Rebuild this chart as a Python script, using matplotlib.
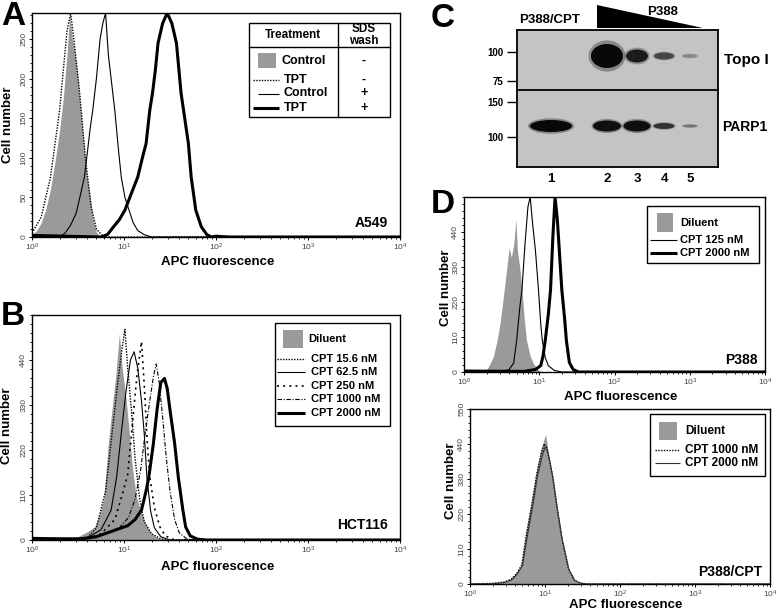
import numpy as np
import matplotlib
matplotlib.use('Agg')
import matplotlib.pyplot as plt
from matplotlib.patches import Rectangle, Ellipse, Polygon
from matplotlib.ticker import LogLocator, MultipleLocator, FixedLocator, NullFormatter

plt.rcParams['font.family'] = ['Liberation Sans', 'DejaVu Sans']
plt.rcParams['mathtext.default'] = 'regular'

# ---- data (log10 APC fluorescence, cell number) ----
# panel A, A549
a_ctrl_lx = [0.0, 0.05, 0.1, 0.15, 0.2, 0.25, 0.3, 0.34, 0.38, 0.41, 0.44, 0.47, 0.5, 0.53, 0.57, 0.6, 0.63, 0.66, 0.7, 0.75, 4.0]
a_ctrl_y = [3, 8, 18, 35, 60, 95, 135, 175, 230, 280, 250, 230, 200, 160, 110, 75, 55, 25, 6, 0, 0]
a_tpt_lx = [0.0, 0.1, 0.2, 0.3, 0.38, 0.42, 0.46, 0.52, 0.58, 0.64, 0.7, 0.78, 4.0]
a_tpt_y = [5, 25, 75, 160, 260, 283, 245, 180, 100, 40, 10, 0, 0]
a_ctrl_w_lx = [0.0, 0.3, 0.36, 0.42, 0.48, 0.53, 0.57, 0.6, 0.63, 0.66, 0.7, 0.74, 0.77, 0.8, 0.83, 0.86, 0.9,
               0.94, 0.97, 1.01, 1.06, 1.1, 1.15, 1.22, 1.3, 4.0]
a_ctrl_w_y = [0, 0, 5, 15, 30, 55, 76, 105, 135, 160, 200, 250, 270, 283, 230, 200, 160, 110, 76, 50, 32, 18, 8, 3, 0, 0]
a_tpt_w_lx = [0.0, 0.75, 0.82, 0.88, 0.95, 1.01, 1.08, 1.15, 1.2, 1.24, 1.28, 1.31, 1.34, 1.37, 1.42, 1.47, 1.52,
              1.57, 1.62, 1.66, 1.7, 1.73, 1.78, 1.84, 1.9, 1.95, 2.0, 2.15, 4.0]
a_tpt_w_y = [2, 0, 3, 12, 22, 34, 55, 76, 100, 118, 160, 182, 210, 245, 270, 283, 270, 245, 182, 150, 118, 76,
             34, 13, 3, 0, 1, 0, 0]

# panel B, HCT116
b_dil_lx = [0.0, 0.3, 0.5, 0.6, 0.68, 0.73, 0.78, 0.83, 0.87, 0.91, 0.95, 0.98, 1.02, 1.05, 1.09, 1.13, 1.18,
            1.23, 1.3, 1.38, 1.5, 4.0]
b_dil_y = [3, 2, 8, 20, 32, 60, 100, 237, 320, 400, 505, 420, 350, 280, 180, 110, 73, 40, 15, 4, 0, 0]
b_c15_lx = [0.0, 0.6, 0.7, 0.8, 0.87, 0.93, 0.98, 1.01, 1.04, 1.08, 1.12, 1.17, 1.22, 1.3, 1.4, 1.5, 4.0]
b_c15_y = [3, 5, 30, 120, 260, 380, 470, 515, 420, 320, 200, 100, 45, 15, 3, 0, 0]
b_c62_lx = [0.0, 0.6, 0.75, 0.86, 0.92, 0.97, 1.02, 1.07, 1.11, 1.15, 1.19, 1.22, 1.25, 1.29, 1.33, 1.4, 1.5, 4.0]
b_c62_y = [3, 5, 25, 73, 154, 260, 360, 440, 460, 420, 340, 260, 150, 70, 30, 8, 0, 0]
b_c250_lx = [0.0, 0.6, 0.75, 0.9, 0.98, 1.04, 1.09, 1.14, 1.19, 1.22, 1.25, 1.28, 1.33, 1.39, 1.45, 1.55, 4.0]
b_c250_y = [2, 3, 15, 50, 110, 160, 280, 400, 485, 380, 250, 154, 80, 32, 10, 0, 0]
b_c1000_lx = [0.0, 0.6, 0.8, 0.95, 1.05, 1.12, 1.18, 1.23, 1.28, 1.32, 1.35, 1.38, 1.42, 1.46, 1.5, 1.55, 1.6,
              1.68, 1.75, 4.0]
b_c1000_y = [2, 3, 15, 30, 55, 100, 170, 260, 340, 400, 430, 390, 300, 200, 120, 50, 18, 3, 0, 0]
b_c2000_lx = [0.0, 0.5, 0.7, 0.85, 0.95, 1.04, 1.12, 1.19, 1.24, 1.27, 1.32, 1.36, 1.4, 1.44, 1.47, 1.5, 1.55,
              1.59, 1.64, 1.67, 1.72, 1.8, 1.9, 4.0]
b_c2000_y = [4, 2, 8, 20, 28, 35, 50, 73, 120, 154, 237, 320, 385, 395, 370, 318, 237, 154, 73, 32, 10, 2, 0, 0]

# panel D top, P388
d1_dil_lx = [0.0, 0.2, 0.3, 0.39, 0.44, 0.48, 0.53, 0.57, 0.6, 0.63, 0.66, 0.69, 0.71, 0.74, 0.77, 0.8, 0.83,
             0.88, 0.92, 0.97, 1.03, 4.0]
d1_dil_y = [0, 0, 5, 48, 100, 154, 250, 330, 390, 360, 400, 480, 380, 330, 258, 170, 100, 50, 28, 10, 0, 0]
d1_c125_lx = [0.0, 0.5, 0.6, 0.66, 0.7, 0.74, 0.77, 0.81, 0.85, 0.88, 0.91, 0.95, 0.99, 1.02, 1.04, 1.08, 1.12,
              1.2, 1.3, 4.0]
d1_c125_y = [2, 0, 8, 28, 100, 200, 258, 400, 520, 550, 470, 380, 258, 150, 100, 45, 20, 5, 0, 0]
d1_c2000_lx = [0.0, 0.8, 0.95, 1.02, 1.05, 1.08, 1.12, 1.15, 1.18, 1.21, 1.24, 1.27, 1.3, 1.34, 1.36, 1.4,
               1.45, 1.52, 4.0]
d1_c2000_y = [3, 2, 8, 20, 50, 100, 180, 258, 420, 550, 480, 370, 258, 160, 100, 30, 8, 0, 0]

# panel D bottom, P388/CPT
d2_dil_lx = [0.0, 0.3, 0.45, 0.52, 0.6, 0.68, 0.74, 0.82, 0.88, 0.94, 0.98, 1.01, 1.04, 1.09, 1.14, 1.21, 1.3,
             1.38, 1.45, 1.55, 4.0]
d2_dil_y = [0, 1, 5, 13, 30, 55, 160, 265, 350, 420, 450, 470, 420, 350, 265, 160, 55, 13, 4, 0, 0]
d2_c1000_lx = [0.0, 0.3, 0.45, 0.55, 0.62, 0.69, 0.75, 0.83, 0.89, 0.95, 0.99, 1.02, 1.05, 1.1, 1.15, 1.22,
               1.31, 1.39, 1.47, 1.56, 4.0]
d2_c1000_y = [0, 2, 6, 15, 32, 60, 150, 255, 345, 410, 440, 430, 400, 340, 255, 150, 50, 12, 3, 0, 0]
d2_c2000_lx = [0.0, 0.3, 0.45, 0.55, 0.62, 0.7, 0.76, 0.84, 0.9, 0.96, 1.0, 1.03, 1.06, 1.11, 1.16, 1.23, 1.32,
               1.4, 1.48, 1.56, 4.0]
d2_c2000_y = [0, 1, 4, 12, 28, 58, 145, 250, 340, 400, 430, 420, 390, 330, 245, 140, 45, 10, 2, 0, 0]

# panel C, western blot
lanes = ['1', '2', '3', '4', '5']
topo_signal = [0.0, 1.0, 0.85, 0.6, 0.25]
parp_signal = [1.0, 0.95, 0.95, 0.7, 0.35]
marker_top = ['100', '75']
marker_bot = ['150', '100']

# ---- layout (pixels of a 777 x 611 canvas) ----
W, H = 777, 611
fig = plt.figure(figsize=(W / 100, H / 100), dpi=100)


def frac(l, t, r, b):
    return [l / W, 1 - b / H, (r - l) / W, (b - t) / H]


GRAY = '#9a9a9a'


def hist_axes(rect, ymax, ystep, minor, ytop):
    ax = fig.add_axes(rect)
    ax.set_xscale('log')
    ax.set_xlim(1, 1e4)
    ax.set_ylim(0, ymax)
    ax.set_xticks([1, 10, 100, 1000, 10000])
    ax.set_xticklabels([r'$10^{%d}$' % i for i in range(5)])
    ax.xaxis.set_minor_locator(LogLocator(base=10, subs=np.arange(2, 10)))
    ax.xaxis.set_minor_formatter(NullFormatter())
    yt = np.arange(0, ytop + 1, ystep)
    ax.yaxis.set_major_locator(FixedLocator(yt))
    ax.set_yticklabels([str(v) for v in yt], rotation=90, va='center')
    ax.yaxis.set_minor_locator(MultipleLocator(minor))
    ax.tick_params(which='major', direction='out', length=2.4, width=0.7, labelsize=6,
                   labelcolor='#444444', pad=1)
    ax.tick_params(which='minor', direction='out', length=1.5, width=0.6)
    for s in ax.spines.values():
        s.set_linewidth(1.0)
    return ax


def fill(ax, lx, y):
    ax.fill_between(10 ** np.array(lx), y, color=GRAY, lw=0)


def line(ax, lx, y, **kw):
    ax.plot(10 ** np.array(lx), y, color='black', **kw)


THIN = dict(lw=0.8)
THICK = dict(lw=2.2)
DOT = dict(lw=1.0, ls=(0, (1, 1)))
SPDOT = dict(lw=1.2, ls=(0, (1.2, 2.5)))
DASHDOT = dict(lw=0.8, ls=(0, (4, 1.5, 1, 1.5)))

# A
axA = hist_axes(frac(32, 13, 400, 237), 283, 50, 10, 250)
fill(axA, a_ctrl_lx, a_ctrl_y)
line(axA, a_tpt_lx, a_tpt_y, **DOT)
line(axA, a_ctrl_w_lx, a_ctrl_w_y, **THIN)
line(axA, a_tpt_w_lx, a_tpt_w_y, **THICK)

# B
axB = hist_axes(frac(32, 315, 400, 540), 550, 110, 22, 440)
fill(axB, b_dil_lx, b_dil_y)
line(axB, b_c15_lx, b_c15_y, **DOT)
line(axB, b_c62_lx, b_c62_y, **THIN)
line(axB, b_c250_lx, b_c250_y, **SPDOT)
line(axB, b_c1000_lx, b_c1000_y, **DASHDOT)
line(axB, b_c2000_lx, b_c2000_y, **THICK)

# D top
axD1 = hist_axes(frac(464, 197, 765, 372), 550, 110, 22, 440)
fill(axD1, d1_dil_lx, d1_dil_y)
line(axD1, d1_c125_lx, d1_c125_y, **THIN)
line(axD1, d1_c2000_lx, d1_c2000_y, **THICK)

# D bottom
axD2 = hist_axes(frac(470, 409, 770, 584), 550, 110, 22, 550)
fill(axD2, d2_dil_lx, d2_dil_y)
line(axD2, d2_c1000_lx, d2_c1000_y, **DOT)
axD2.plot(10 ** np.array(d2_c2000_lx), d2_c2000_y, color='#333333', lw=0.8)

# C blot
axC = fig.add_axes(frac(517, 30, 718, 167))
axC.set_xlim(517, 718)
axC.set_ylim(167, 30)
axC.set_facecolor('#c4c4c4')
axC.axhline(90, color='black', lw=1.3)
for s in axC.spines.values():
    s.set_linewidth(1.3)
lane_x = [551, 607, 637, 664, 690]
topo_w = [0, 32, 22, 20, 15]
topo_h = [0, 24, 13, 7, 4]
parp_w = [42, 28, 27, 21, 15]
parp_h = [12, 11, 11, 6, 3]
for x, s, w, h in zip(lane_x, topo_signal, topo_w, topo_h):
    if s > 0:
        axC.add_patch(Ellipse((x, 56), w * 1.15, h * 1.3, color='black', alpha=0.3 * s, lw=0))
        axC.add_patch(Ellipse((x, 56), w, h, color='#080808', alpha=s, lw=0))
for x, s, w, h in zip(lane_x, parp_signal, parp_w, parp_h):
    axC.add_patch(Ellipse((x, 126), w * 1.1, h * 1.3, color='black', alpha=0.3 * s, lw=0))
    axC.add_patch(Ellipse((x, 126), w, h, color='#080808', alpha=s, lw=0))
axC.set_yticks([52, 81, 102, 137])
axC.set_yticklabels(marker_top + marker_bot, fontsize=7, fontweight='bold')
axC.set_xticks(lane_x)
axC.set_xticklabels(lanes, fontsize=9.5, fontweight='bold')
axC.tick_params(axis='y', direction='out', length=7, width=1.0, pad=3)
axC.tick_params(axis='x', length=0, pad=4)

# ---- overlay for labels, legends, annotations ----
ov = fig.add_axes([0, 0, 1, 1])
ov.set_xlim(0, W)
ov.set_ylim(H, 0)
ov.axis('off')

BOLD = dict(fontweight='bold', color='black')

for txt, x, y in [('A', 1, 25), ('B', 1, 325), ('C', 431, 27), ('D', 431, 213)]:
    ov.text(x, y, txt, fontsize=24, va='baseline', ha='left', **BOLD)

for x, y in [(218, 262), (218, 567), (621, 397), (626, 605)]:
    ov.text(x, y, 'APC fluorescence', fontsize=9.5, ha='center', va='center', **BOLD)
for x, y in [(8, 125), (7, 426), (446, 288), (451, 481)]:
    ov.text(x, y, 'Cell number', fontsize=9.5, ha='center', va='center', rotation=90, **BOLD)

for txt, x, y in [('A549', 388, 223), ('HCT116', 388, 525), ('P388', 758, 360), ('P388/CPT', 762, 572)]:
    ov.text(x, y, txt, fontsize=10, ha='right', va='center', **BOLD)

# blot annotations
ov.add_patch(Polygon([(597, 5), (597, 28), (703, 28)], closed=True, color='black', lw=0))
ov.text(550, 20, 'P388/CPT', fontsize=9.5, ha='center', va='center', **BOLD)
ov.text(663, 12, 'P388', fontsize=9.5, ha='center', va='center', **BOLD)
ov.text(724, 60, 'Topo I', fontsize=11, ha='left', va='center', **BOLD)
ov.text(722, 127, 'PARP1', fontsize=10, ha='left', va='center', **BOLD)


def box(l, t, r, b):
    ov.add_patch(Rectangle((l, t), r - l, b - t, facecolor='white', edgecolor='black', lw=1.0, zorder=3))


def swatch(l, t, w, h):
    ov.add_patch(Rectangle((l, t), w, h, facecolor=GRAY, lw=0, zorder=4))


def sample(x0, x1, y, style):
    ov.plot([x0, x1], [y, y], color=style.get('color', 'black'), lw=style['lw'],
            ls=style.get('ls', '-'), zorder=4, solid_capstyle='butt')


# legend A (table)
box(249, 23, 390, 117)
ov.plot([249, 390], [47, 47], color='black', lw=1.0, zorder=4)
ov.plot([338, 338], [23, 117], color='black', lw=1.0, zorder=4)
ov.text(293, 35, 'Treatment', fontsize=8.5, ha='center', va='center', zorder=5, **BOLD)
ov.text(364, 35, 'SDS\nwash', fontsize=8.5, ha='center', va='center', linespacing=0.95, zorder=5, **BOLD)
swatch(258, 53, 18, 15)
ov.text(282, 61, 'Control', fontsize=9, ha='left', va='center', zorder=5, **BOLD)
sample(253, 279, 80, DOT)
ov.text(284, 80, 'TPT', fontsize=9, ha='left', va='center', zorder=5, **BOLD)
sample(258, 279, 94, THIN)
ov.text(284, 93, 'Control', fontsize=9, ha='left', va='center', zorder=5, **BOLD)
sample(253, 279, 108, THICK)
ov.text(284, 108, 'TPT', fontsize=9, ha='left', va='center', zorder=5, **BOLD)
for s, y in zip(['-', '-', '+', '+'], [61, 80, 93, 108]):
    ov.text(364, y, s, fontsize=9, ha='center', va='center', zorder=5, **BOLD)

# legend B
box(275, 323, 390, 426)
swatch(283, 330, 20, 18)
ov.text(308, 339, 'Diluent', fontsize=8, ha='left', va='center', zorder=5, **BOLD)
b_styles = [DOT, THIN, SPDOT, DASHDOT, THICK]
b_labels = ['CPT 15.6 nM', 'CPT 62.5 nM', 'CPT 250 nM', 'CPT 1000 nM', 'CPT 2000 nM']
for st, lab, y in zip(b_styles, b_labels, [359, 372, 386, 399, 413]):
    sample(277, 305, y, st)
    ov.text(311, y, lab, fontsize=8, ha='left', va='center', zorder=5, **BOLD)

# legend D top
box(647, 206, 759, 263)
swatch(657, 213, 16, 19)
ov.text(680, 223, 'Diluent', fontsize=8, ha='left', va='center', zorder=5, **BOLD)
for st, lab, y in zip([THIN, THICK], ['CPT 125 nM', 'CPT 2000 nM'], [240, 253]):
    sample(650, 677, y, st)
    ov.text(680, y, lab, fontsize=8, ha='left', va='center', zorder=5, **BOLD)

# legend D bottom
box(650, 414, 765, 476)
swatch(659, 422, 18, 18)
ov.text(685, 431, 'Diluent', fontsize=8.5, ha='left', va='center', zorder=5, **BOLD)
for st, lab, y in zip([DOT, dict(lw=0.8, color='#333333')], ['CPT 1000 nM', 'CPT 2000 nM'], [450, 463]):
    sample(655, 680, y, st)
    ov.text(685, y, lab, fontsize=8.5, ha='left', va='center', zorder=5, **BOLD)

fig.savefig('out.png', dpi=100)
